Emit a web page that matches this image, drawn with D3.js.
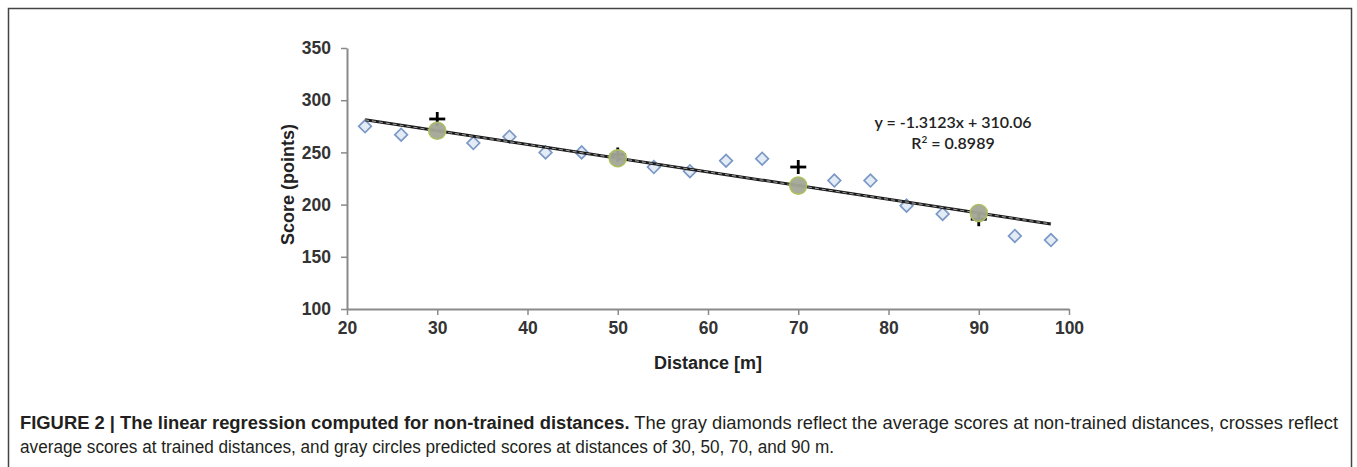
<!DOCTYPE html>
<html>
<head>
<meta charset="utf-8">
<script src="https://cdn.jsdelivr.net/npm/d3@7"></script>
<style>
  html, body { margin: 0; padding: 0; background: #fff; }
  svg { display: block; }
</style>
</head>
<body>
<svg id="fig" width="1357" height="467"></svg>
<script>
// Average scores at non-trained distances (gray diamonds)
const untrainedDistances = [22, 26, 34, 38, 42, 46, 54, 58, 62, 66, 74, 78, 82, 86, 94, 98];
const untrainedScores    = [275, 267, 259, 265, 250, 250, 236, 232, 242, 244, 223, 223, 199, 191, 170, 166];

// Average scores at trained distances (crosses)
const trainedDistances = [30, 50, 70, 90];
const trainedScores    = [282, 248, 236, 186];

// Regression fitted on the non-trained distances
const slope = -1.3123;
const intercept = 310.06;
const rSquared = 0.8989;
const fitRange = [22, 98];

// Axis ticks
const xTicks = [20, 30, 40, 50, 60, 70, 80, 90, 100];
const yTicks = [100, 150, 200, 250, 300, 350];

const svg = d3.select("#fig");

// Figure frame
svg.append("rect")
  .attr("x", 8.5).attr("y", 8.5)
  .attr("width", 1343).attr("height", 470)
  .attr("fill", "none")
  .attr("stroke", "#444")
  .attr("stroke-width", 1.5);

const x = d3.scaleLinear().domain([20, 100]).range([347, 1069]);
const y = d3.scaleLinear().domain([100, 350]).range([309, 48]);

const axisColor = "#8a8a8a";
const tickFont = "bold 17.5px 'Liberation Sans', Arial, sans-serif";

// X axis
const gx = svg.append("g")
  .attr("transform", `translate(0,${y(100)})`)
  .call(d3.axisBottom(x).tickValues(xTicks).tickSize(6).tickPadding(7).tickSizeOuter(0));
gx.select(".domain").attr("stroke", axisColor).attr("stroke-width", 2);
gx.selectAll(".tick line").attr("stroke", axisColor).attr("stroke-width", 1.5);
gx.selectAll(".tick text").attr("fill", "#333").style("font", tickFont);

// Y axis
const gy = svg.append("g")
  .attr("transform", `translate(${x(20)},0)`)
  .call(d3.axisLeft(y).tickValues(yTicks).tickSize(6).tickPadding(10).tickSizeOuter(0));
gy.select(".domain").attr("stroke", axisColor).attr("stroke-width", 2);
gy.selectAll(".tick line").attr("stroke", axisColor).attr("stroke-width", 1.5);
gy.selectAll(".tick text").attr("fill", "#333").style("font", tickFont);

// Axis titles
svg.append("text")
  .attr("x", (x(20) + x(100)) / 2).attr("y", 369)
  .attr("text-anchor", "middle")
  .attr("fill", "#222")
  .style("font", "bold 18px 'Liberation Sans', Arial, sans-serif")
  .text("Distance [m]");

svg.append("text")
  .attr("transform", `translate(294,${(y(100) + y(350)) / 2 + 6}) rotate(-90)`)
  .attr("text-anchor", "middle")
  .attr("fill", "#222")
  .style("font", "bold 18px 'Liberation Sans', Arial, sans-serif")
  .text("Score (points)");

// Diamonds: non-trained distances
const diamond = d3.symbol().type(d3.symbolSquare).size(80);
svg.append("g").selectAll("path")
  .data(untrainedDistances.map((d, i) => [d, untrainedScores[i]]))
  .join("path")
  .attr("d", diamond)
  .attr("transform", d => `translate(${x(d[0])},${y(d[1])}) rotate(45)`)
  .attr("fill", "#e3ebf5")
  .attr("stroke", "#7b98c6")
  .attr("stroke-width", 1.7);

// Crosses: trained distances
const crossHalf = 7;
const crosses = svg.append("g").selectAll("g")
  .data(trainedDistances.map((d, i) => [d, trainedScores[i]]))
  .join("g")
  .attr("transform", d => `translate(${x(d[0])},${y(d[1])})`);
crosses.append("line")
  .attr("x1", -crossHalf - 1).attr("x2", crossHalf + 1).attr("y1", 0).attr("y2", 0)
  .attr("stroke", "#000").attr("stroke-width", 2.8);
crosses.append("line")
  .attr("x1", 0).attr("x2", 0).attr("y1", -crossHalf).attr("y2", crossHalf)
  .attr("stroke", "#000").attr("stroke-width", 2.8);

// Regression line
const fit = fitRange.map(d => [x(d), y(slope * d + intercept)]);
svg.append("path")
  .attr("d", d3.line()(fit))
  .attr("stroke", "#1a1a1a").attr("stroke-width", 3).attr("fill", "none");
svg.append("path")
  .attr("d", d3.line()(fit))
  .attr("stroke", "#9a9a9a").attr("stroke-width", 1.1)
  .attr("stroke-dasharray", "4,3").attr("fill", "none");

// Gray circles: predicted scores at trained distances
svg.append("g").selectAll("circle")
  .data(trainedDistances)
  .join("circle")
  .attr("cx", d => x(d))
  .attr("cy", d => y(slope * d + intercept))
  .attr("r", 8.5)
  .attr("fill", "#a3a596")
  .attr("stroke", "#aabf5e")
  .attr("stroke-width", 1.6)
  .attr("fill-opacity", 0.95);

// Equation label
const eqFont = "16px Lato, 'Open Sans', sans-serif";
svg.append("text")
  .attr("x", 953).attr("y", 128)
  .attr("text-anchor", "middle")
  .attr("fill", "#222")
  .style("font", eqFont)
  .style("font-weight", 600)
  .text(`y = ${slope}x + ${intercept.toFixed(2)}`);

const r2 = svg.append("text")
  .attr("x", 953).attr("y", 149)
  .attr("text-anchor", "middle")
  .attr("fill", "#222")
  .style("font", eqFont)
  .style("font-weight", 600);
r2.append("tspan").text("R");
r2.append("tspan").attr("dy", -6).style("font-size", "10px").text("2");
r2.append("tspan").attr("dy", 6).text(` = ${rSquared}`);

// Caption
const capFont = "17.5px 'Liberation Sans', Arial, sans-serif";
const line1 = svg.append("text")
  .attr("x", 20).attr("y", 429)
  .attr("fill", "#231f20")
  .attr("textLength", 1318).attr("lengthAdjust", "spacingAndGlyphs")
  .style("font", capFont);
line1.append("tspan").style("font-weight", "bold")
  .text("FIGURE 2 | The linear regression computed for non-trained distances.");
line1.append("tspan")
  .text(" The gray diamonds reflect the average scores at non-trained distances, crosses reflect");

svg.append("text")
  .attr("x", 20).attr("y", 453)
  .attr("fill", "#231f20")
  .attr("textLength", 814).attr("lengthAdjust", "spacingAndGlyphs")
  .style("font", capFont)
  .text("average scores at trained distances, and gray circles predicted scores at distances of 30, 50, 70, and 90 m.");
</script>
</body>
</html>
